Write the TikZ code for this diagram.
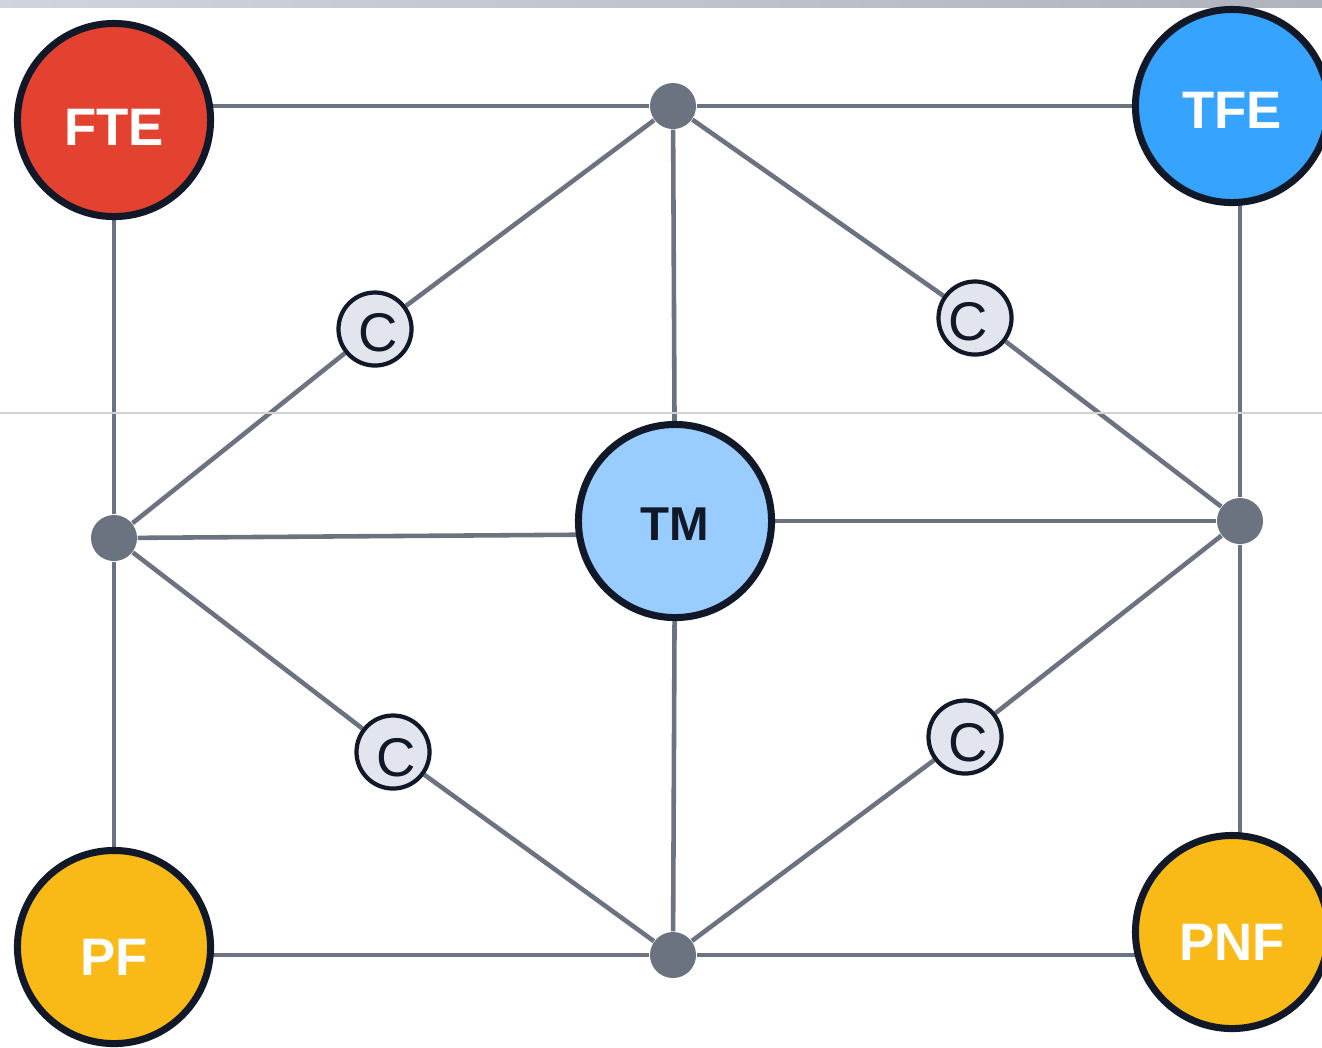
\documentclass[tikz,border=0pt]{standalone}
\usepackage{fontspec}
\setmainfont{Liberation Sans}
\usetikzlibrary{backgrounds}

\definecolor{aresta}{HTML}{6B7280}
\definecolor{borda}{HTML}{111827}
\definecolor{vermelho}{HTML}{E34230}
\definecolor{azul}{HTML}{36A3FF}
\definecolor{azulclaro}{HTML}{9ACDFF}
\definecolor{amarelo}{HTML}{F9B916}
\definecolor{cinzaC}{HTML}{E2E5EE}

\tikzset{
  estado/.style={circle,draw=borda,line width=2pt,minimum size=1.93cm,inner sep=0pt},
  rotulo/.style={font=\bfseries\fontsize{15}{15}\selectfont,text=white,inner sep=0pt},
  juncao/.style={circle,fill=aresta,minimum size=0.46cm,inner sep=0pt},
  catal/.style={circle,draw=borda,fill=cinzaC,line width=1.2pt,minimum size=0.73cm,inner sep=0pt},
  letraC/.style={font=\fontsize{15.5}{15.5}\selectfont,text=borda,inner sep=0pt},
  aresta/.style={draw=aresta,line width=1.3pt}
}

\begin{document}
\begin{tikzpicture}[x=0.01cm,y=-0.01cm]

  % area visivel
  \clip (0,0) rectangle (1322,1047);

  % faixa do topo e linha fina
  \shade[left color=cinzaC!85!aresta,middle color=cinzaC!70,right color=cinzaC!40!aresta!80] (0,0) rectangle (1322,7);
  \draw[gray!35,line width=0.3pt] (0,413) -- (1322,413);

  % estados
  \node[estado,fill=vermelho,label={[rotulo,yshift=-0.07cm]center:FTE}] (FTE) at (114,120) {};
  \node[estado,fill=azul,label={[rotulo,yshift=-0.04cm]center:TFE}]     (TFE) at (1232,106) {};
  \node[estado,fill=amarelo,label={[rotulo,yshift=-0.1cm]center:PF}]    (PF)  at (114,947) {};
  \node[estado,fill=amarelo,label={[rotulo,yshift=-0.1cm]center:PNF}]   (PNF) at (1232,932) {};
  \node[estado,fill=azulclaro,label={[rotulo,text=borda,font=\bfseries\fontsize{13.5}{13.5}\selectfont,yshift=-0.03cm]center:TM}] (TM) at (675,521) {};

  % juncoes
  \node[juncao] (cima)  at (673,106) {};
  \node[juncao] (esq)   at (114,538) {};
  \node[juncao] (dir)   at (1240,521) {};
  \node[juncao] (baixo) at (673,955) {};

  % C
  \node[catal,label={[letraC,xshift=0.03cm,yshift=-0.04cm]center:C}] (C1) at (375,329) {};
  \node[catal,label={[letraC,xshift=-0.07cm,yshift=-0.04cm]center:C}] (C2) at (975,318) {};
  \node[catal,label={[letraC,xshift=0.03cm,yshift=-0.06cm]center:C}] (C3) at (393,752) {};
  \node[catal,label={[letraC,xshift=0.03cm,yshift=-0.06cm]center:C}] (C4) at (965,737) {};

  \begin{scope}[on background layer]
    % contorno
    \draw[aresta] (FTE.center |- cima) -- (cima) -- (TFE.center |- cima);
    \draw[aresta] (FTE) -- (esq) -- (PF);
    \draw[aresta] (dir |- TFE.center) -- (dir) -- (dir |- PNF.center);
    \draw[aresta] (PF.center |- baixo) -- (baixo) -- (PNF.center |- baixo);
    % ligacoes ao TM
    \draw[aresta] (cima) -- (TM);
    \draw[aresta] (esq) -- ([yshift=-0.13cm]TM.center);
    \draw[aresta] (TM) -- (dir);
    \draw[aresta] (TM) -- (baixo);
    % diagonais pelos C
    \draw[aresta] (cima) -- (C1) -- (esq);
    \draw[aresta] (cima) -- (C2) -- (dir);
    \draw[aresta] (esq) -- (C3) -- (baixo);
    \draw[aresta] (dir) -- (C4) -- (baixo);
  \end{scope}

\end{tikzpicture}
\end{document}
